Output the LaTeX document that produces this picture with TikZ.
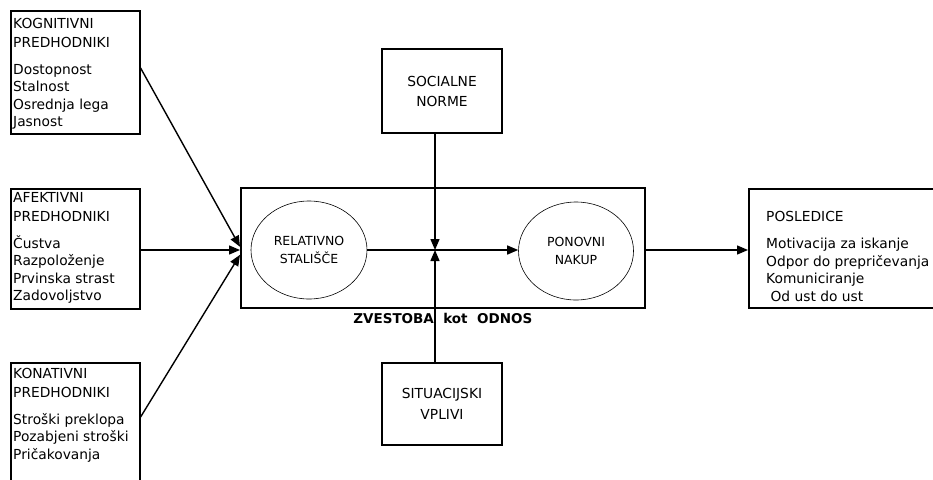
\documentclass[tikz,border=0pt]{standalone}
\usepackage{fontspec}
\setmainfont{DejaVu Sans}
\usetikzlibrary{arrows.meta,positioning,calc,shapes.geometric}

\tikzset{
  okvir/.style={draw, line width=1.6pt, inner sep=0pt, anchor=north west},
  vsebina/.style={anchor=north west, align=left, inner sep=0pt, font=\fontsize{13.8}{17.5}\selectfont},
  elipsa/.style={draw, ellipse, line width=0.6pt, inner sep=0pt, align=center, font=\fontsize{12.5}{17.5}\selectfont},
  puscica/.style={line width=1.4pt, -{Triangle[length=11pt,width=9pt]}},
}

\begin{document}
\begin{tikzpicture}[x=1pt, y=-1pt]
\useasboundingbox (0,0) rectangle (933,479);
\clip (0,0) rectangle (933,479);

% predhodniki
\node[okvir, minimum width=129pt, minimum height=123pt] (kog) at (10,10) {};
\node[vsebina] (kogtxt) at (13,18) {KOGNITIVNI\\[2pt] PREDHODNIKI\\[9pt] Dostopnost\\ Stalnost\\ Osrednja lega\\ Jasnost};
\node[okvir, minimum width=129pt, minimum height=120pt] (afe) at (10,188) {};
\node[vsebina] (afetxt) at (13,192) {AFEKTIVNI\\[2pt] PREDHODNIKI\\[9pt] Čustva\\ Razpoloženje\\ Prvinska strast\\ Zadovoljstvo};
\node[okvir, minimum width=129pt, minimum height=140pt] (kon) at (10,362) {};
\node[vsebina] (kontxt) at (13,368) {KONATIVNI\\[2pt] PREDHODNIKI\\[9pt] Stroški preklopa\\ Pozabjeni stroški\\ Pričakovanja};

% zvestoba
\node[okvir, minimum width=404pt, minimum height=120pt] (zv) at (240,187) {};
\node[anchor=north, inner sep=0pt, font=\bfseries\fontsize{13.5}{16}\selectfont] (zvtxt) at ($(zv.south)+(0,4)$) {ZVESTOBA\ \ kot\ \ ODNOS};
\node[elipsa, minimum width=116pt, minimum height=98pt] (rel) at (309,250) {RELATIVNO\\STALIŠČE};
\node[elipsa, minimum width=115pt, minimum height=98pt] (pon) at (576,251) {PONOVNI\\NAKUP};

% vplivi
\node[okvir, anchor=center, minimum width=120pt, minimum height=84pt, align=center, font=\fontsize{13.8}{20}\selectfont] (sn) at (442,91) {SOCIALNE\\NORME};
\node[okvir, anchor=center, minimum width=120pt, minimum height=82pt, align=center, font=\fontsize{13.8}{20.5}\selectfont] (sit) at (442,404) {SITUACIJSKI\\VPLIVI};

% posledice
\node[okvir, minimum width=200pt, minimum height=119pt] (pos) at (748,188) {};
\node[vsebina] (postxt) at (766,211) {POSLEDICE\\[10pt] Motivacija za iskanje\\ Odpor do prepričevanja\\ Komuniciranje\\ \ Od ust do ust};

\coordinate (stik) at (435,250);

% povezave
\draw[puscica] ($(kog.north east)+(0,58)$) -- ($(zv.west)+(0,-1)$);
\draw[puscica] (afe.east |- stik) -- (zv.west |- stik);
\draw[puscica] ($(kon.north east)+(0,55)$) -- ($(zv.west)+(0,7)$);
\draw[puscica] (rel.east) -- (rel.east -| pon.west);
\draw[puscica] (sn.south -| stik) -- (stik);
\draw[puscica] (sit.north -| stik) -- (stik);
\draw[puscica] (zv.east |- stik) -- (pos.west |- stik);
\end{tikzpicture}
\end{document}
